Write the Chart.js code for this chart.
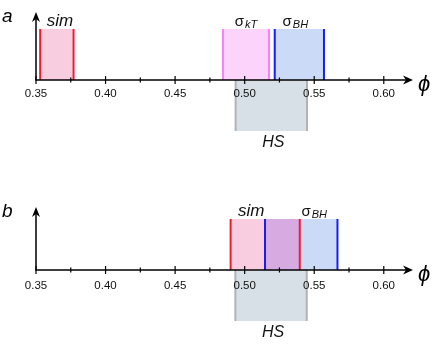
<!DOCTYPE html>
<html>
<head>
<meta charset="utf-8">
<script src="https://cdn.jsdelivr.net/npm/chart.js@4"></script>
<style>
  body { margin: 0; background: #fff; }
  .panel { position: absolute; left: 0; width: 436px; }
</style>
</head>
<body>
<div class="panel" style="top:0;height:175px"><canvas id="chartA"></canvas></div>
<div class="panel" style="top:175px;height:170px"><canvas id="chartB"></canvas></div>
<script>
// packing fraction axis
const phiTicks = [0.35, 0.40, 0.45, 0.50, 0.55, 0.60];
const phiMin = 0.35;
const phiMax = 0.621;

// panel a ranges
const simA = [0.353, 0.377];
const sigmaKTA = [0.4844, 0.5175];
const sigmaBHA = [0.5216, 0.557];
const hsA = [0.4935, 0.5448];

// panel b ranges
const simB = [0.4899, 0.5396];
const sigmaBHB = [0.5146, 0.5667];
const hsB = [0.4933, 0.5446];

const FONT = '"Liberation Sans", Arial, Helvetica, sans-serif';

const colors = {
  sim: { fill: '#f9cde0', edge: '#f01c2c' },
  kT: { fill: '#fbd3fb', edge: '#fa80fa' },
  BH: { fill: '#cbdaf7', edge: '#1a1aff' },
  HS: { fill: '#d6e0e6', edge: '#b3b3b3' },
  overlap: '#d8aae2'
};

function bandDatasets(range, side, c) {
  const [s, e] = range;
  const edge = x => ({
    data: [{ x: x, y: 0 }, { x: x, y: side }],
    borderColor: c.edge, borderWidth: 2, pointRadius: 0, fill: false, order: 1
  });
  return [
    { data: [{ x: s, y: side }, { x: e, y: side }], fill: 'origin',
      backgroundColor: c.fill, borderWidth: 0, pointRadius: 0, order: 3 },
    edge(s), edge(e)
  ];
}

function overlapDataset(r1, r2) {
  const s = Math.max(r1[0], r2[0]), e = Math.min(r1[1], r2[1]);
  return { data: [{ x: s, y: 1 }, { x: e, y: 1 }], fill: 'origin',
    backgroundColor: colors.overlap, borderWidth: 0, pointRadius: 0, order: 2 };
}

const axisArrows = {
  id: 'axisArrows',
  afterDatasetsDraw(chart) {
    const { ctx, chartArea, scales: { x, y } } = chart;
    const y0 = y.getPixelForValue(0);
    const x0 = x.getPixelForValue(phiMin);
    const xEnd = chartArea.right, yEnd = chartArea.top;
    ctx.save();
    ctx.strokeStyle = '#000';
    ctx.fillStyle = '#000';
    ctx.lineWidth = 1.5;
    ctx.beginPath();
    ctx.moveTo(x0 - 0.75, y0);
    ctx.lineTo(xEnd - 7, y0);
    ctx.moveTo(x0, y0);
    ctx.lineTo(x0, yEnd + 7);
    ctx.stroke();
    // arrow heads
    ctx.beginPath();
    ctx.moveTo(xEnd, y0);
    ctx.lineTo(xEnd - 10, y0 - 4.5);
    ctx.lineTo(xEnd - 7, y0);
    ctx.lineTo(xEnd - 10, y0 + 4.5);
    ctx.closePath();
    ctx.fill();
    ctx.beginPath();
    ctx.moveTo(x0, yEnd);
    ctx.lineTo(x0 - 4, yEnd + 10);
    ctx.lineTo(x0, yEnd + 7);
    ctx.lineTo(x0 + 4, yEnd + 10);
    ctx.closePath();
    ctx.fill();
    // tick marks
    ctx.lineWidth = 1.2;
    ctx.beginPath();
    phiTicks.forEach((v, i) => {
      const px = x.getPixelForValue(v);
      ctx.moveTo(px, y0 - 4);
      ctx.lineTo(px, y0 + 4);
      if (i < phiTicks.length - 1) {
        const mx = x.getPixelForValue((v + phiTicks[i + 1]) / 2);
        ctx.moveTo(mx, y0 - 2.5);
        ctx.lineTo(mx, y0 + 2.5);
      }
    });
    ctx.stroke();
    // phi symbol and panel letter
    ctx.font = 'italic 22px ' + FONT;
    ctx.textBaseline = 'middle';
    ctx.textAlign = 'left';
    ctx.fillText('\u03d5', xEnd + 5, y0 + 5);
    ctx.font = 'italic 19px ' + FONT;
    ctx.textBaseline = 'alphabetic';
    ctx.fillText(chart.options.plugins.bandLabels.letter, 2, yEnd + 10);
    ctx.restore();
  }
};

const bandLabels = {
  id: 'bandLabels',
  afterDatasetsDraw(chart, args, opts) {
    const { ctx, scales: { x, y } } = chart;
    ctx.save();
    ctx.fillStyle = '#111';
    ctx.textBaseline = 'alphabetic';
    ctx.textAlign = 'left';
    opts.items.forEach(it => {
      const cx = x.getPixelForValue((it.range[0] + it.range[1]) / 2) + it.dx;
      const base = it.side > 0 ? y.getPixelForValue(1) - 3 : y.getPixelForValue(-1) + 16;
      if (it.sub) {
        ctx.font = '15px ' + FONT;
        const w1 = ctx.measureText(it.text).width;
        ctx.font = 'italic 11px ' + FONT;
        const w2 = ctx.measureText(it.sub).width;
        const left = cx - (w1 + 1 + w2) / 2;
        ctx.font = '15px ' + FONT;
        ctx.fillText(it.text, left, base);
        ctx.font = 'italic 11px ' + FONT;
        ctx.fillText(it.sub, left + w1 + 1, base + 2);
      } else {
        ctx.font = 'italic ' + it.size + 'px ' + FONT;
        const w = ctx.measureText(it.text).width;
        ctx.fillText(it.text, cx - w / 2, base);
      }
    });
    ctx.restore();
  }
};

function makeChart(id, datasets, yTop, padding, tickPad, letter, items) {
  return new Chart(document.getElementById(id), {
    type: 'line',
    data: { datasets: datasets },
    options: {
      responsive: true,
      maintainAspectRatio: false,
      animation: false,
      layout: { padding: padding },
      plugins: {
        legend: { display: false },
        tooltip: { enabled: false },
        bandLabels: { letter: letter, items: items }
      },
      scales: {
        x: {
          type: 'linear',
          min: phiMin,
          max: phiMax,
          position: { y: 0 },
          border: { display: false },
          grid: { display: false },
          afterBuildTicks: s => { s.ticks = phiTicks.map(v => ({ value: v })); },
          ticks: {
            z: 1,
            padding: tickPad,
            color: '#111',
            autoSkip: false,
            maxRotation: 0,
            font: { family: FONT, size: 11.5 },
            callback: v => Number(v).toFixed(2)
          }
        },
        y: { display: false, min: -1, max: yTop }
      }
    },
    plugins: [axisArrows, bandLabels]
  });
}

makeChart('chartA', [
  ...bandDatasets(simA, 1, colors.sim),
  ...bandDatasets(sigmaKTA, 1, colors.kT),
  ...bandDatasets(sigmaBHA, 1, colors.BH),
  ...bandDatasets(hsA, -1, colors.HS)
], 1.333, { left: 36, right: 23, top: 12, bottom: 44 }, -1, 'a', [
  { range: simA, side: 1, text: 'sim', size: 17, dx: 3 },
  { range: sigmaKTA, side: 1, text: '\u03c3', sub: 'kT', dx: 0 },
  { range: sigmaBHA, side: 1, text: '\u03c3', sub: 'BH', dx: -4 },
  { range: hsA, side: -1, text: 'HS', size: 16, dx: 2 }
]);

makeChart('chartB', [
  ...bandDatasets(simB, 1, colors.sim),
  ...bandDatasets(sigmaBHB, 1, colors.BH),
  overlapDataset(simB, sigmaBHB),
  ...bandDatasets(hsB, -1, colors.HS)
], 1.235, { left: 36, right: 23, top: 32, bottom: 24 }, 1, 'b', [
  { range: simB, side: 1, text: 'sim', size: 17, dx: -14 },
  { range: sigmaBHB, side: 1, text: '\u03c3', sub: 'BH', dx: 13 },
  { range: hsB, side: -1, text: 'HS', size: 16, dx: 2 }
]);
</script>
</body>
</html>
